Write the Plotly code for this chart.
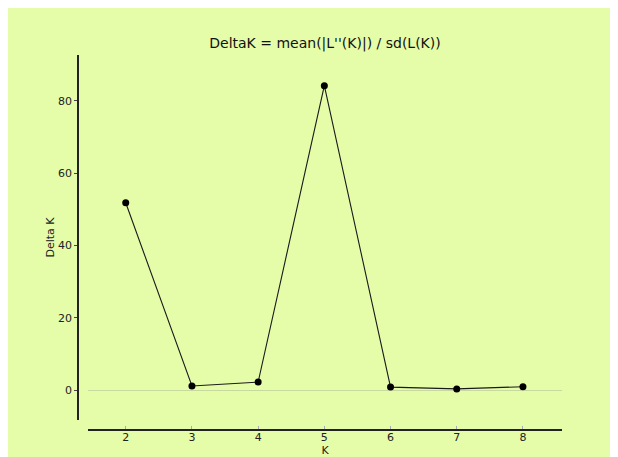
import plotly.graph_objects as go

K = [2, 3, 4, 5, 6, 7, 8]
delta_k = [51.8, 1.1, 2.2, 84.2, 0.8, 0.3, 0.9]
x_ticks = [2, 3, 4, 5, 6, 7, 8]
y_ticks = [0, 20, 40, 60, 80]

W, H = 618, 457
OFF = 8  # page body margin
BG = "#e5fca9"
FONT = "DejaVu Sans"

def px(x):
    return (x - OFF) / W

def py(y):
    return 1 - (y - OFF) / H

fig = go.Figure()
fig.add_trace(go.Scatter(
    x=K, y=delta_k, mode="lines+markers",
    line=dict(color="#1a1a1a", width=1.1),
    marker=dict(color="black", size=7),
    showlegend=False, cliponaxis=False,
))

fig.update_layout(
    width=W, height=H,
    margin=dict(l=0, r=0, t=0, b=0),
    paper_bgcolor=BG,
    plot_bgcolor="rgba(0,0,0,0)",
    font=dict(family=FONT, size=11, color="#222"),
    title=dict(text="DeltaK = mean(|L''(K)|) / sd(L(K))", x=px(325), xanchor="center",
               y=py(43), yanchor="middle", font=dict(size=14, color="#111")),
    xaxis=dict(
        domain=[px(88), px(562)], range=[1.43, 8.59], anchor="free", position=py(430),
        tickvals=x_ticks, ticks="inside", ticklen=3, tickcolor="#aaa",
        ticklabelstandoff=-3,
        showline=True, linecolor="#222", linewidth=1.5, showgrid=False, zeroline=False,
        title=dict(text="K", standoff=0, font=dict(size=11)), automargin=False,
    ),
    yaxis=dict(
        domain=[py(420), py(55)], range=[-8.3, 92.7], anchor="free", position=px(78),
        tickvals=y_ticks, ticks="outside", ticklen=3, tickcolor="#444",
        showline=True, linecolor="#222", linewidth=1.5, showgrid=False,
        zeroline=True, zerolinecolor="#c8d9a0", zerolinewidth=1,
        title=dict(text="Delta K", standoff=0, font=dict(size=11)), automargin=False,
    ),
)
fig.write_html("out.html")
